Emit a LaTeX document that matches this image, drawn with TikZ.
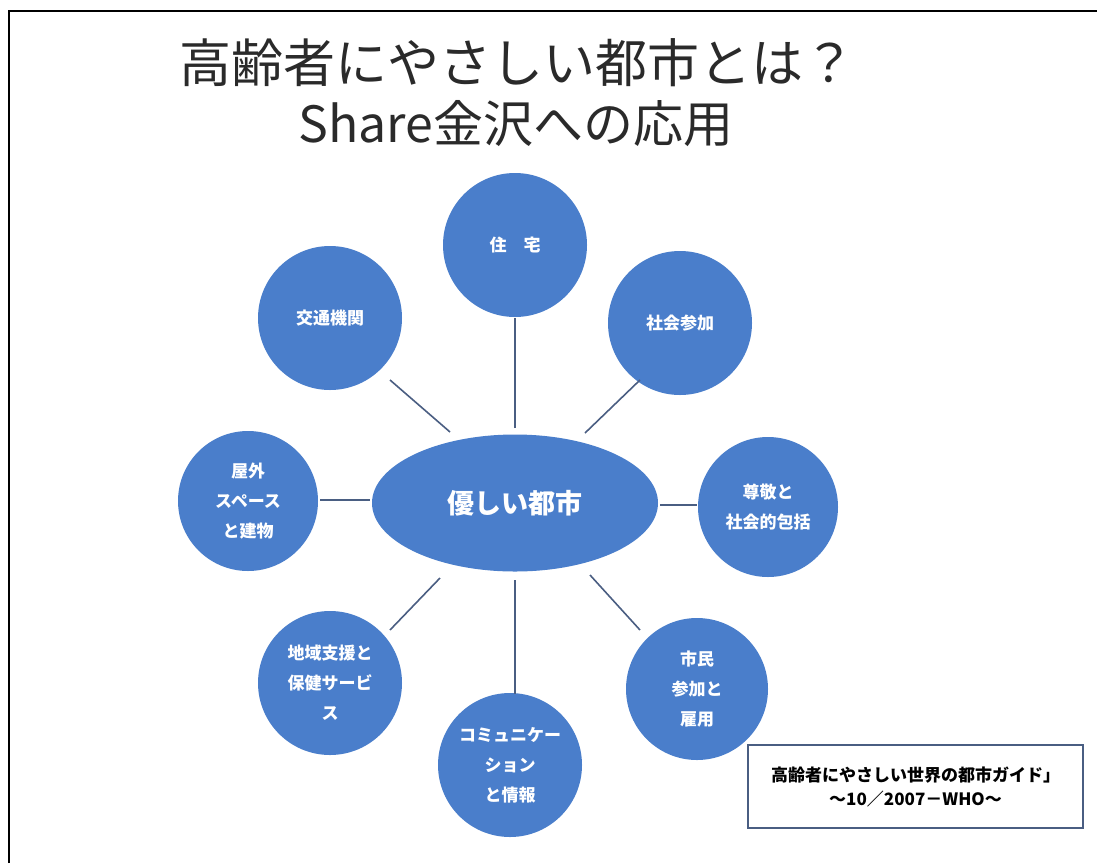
\documentclass[tikz,border=0pt]{standalone}
\usepackage{fontspec}
\setmainfont{Noto Sans CJK JP}
\usetikzlibrary{shapes.geometric}
\definecolor{cfill}{HTML}{4A7ECB}
\definecolor{cline}{HTML}{4A5E82}
\definecolor{ttl}{HTML}{2A2A2A}
\tikzset{
  topic/.style={circle, fill=cfill, minimum size=144pt, inner sep=0pt, text=white, align=center, font=\fontsize{17}{30}\selectfont\bfseries},
  hub/.style={ellipse, fill=cfill, minimum width=286pt, minimum height=137pt, inner sep=0pt, text=white, font=\fontsize{27}{30}\selectfont\bfseries},
  link/.style={draw=cline, line width=1.6pt},
}
\begin{document}
\begin{tikzpicture}[x=1pt,y=-1pt]
\useasboundingbox (0,0) rectangle (1097,863);
\fill[white] (0,0) rectangle (1097,863);
\draw[line width=2.2pt] (9,863) -- (9,11) -- (1097,11);
% title
\node[text=ttl, font=\fontsize{52}{54}\selectfont] (t1) at (517,63) {高齢者にやさしい都市とは？};
\node[text=ttl, font=\fontsize{50}{54}\selectfont] (t2) at (516,124) {Share金沢への応用};
% hub
\node[hub] (c) at (515,503) {優しい都市};
% topics
\node[topic] (a1) at (515,245) {住\hspace{1em}宅};
\node[topic] (a2) at (680,323) {社会参加};
\node[topic, minimum size=140pt] (a3) at (768,507) {尊敬と\\社会的包括};
\node[topic, minimum size=142pt] (a4) at (697,689) {市民\\参加と\\雇用};
\node[topic] (a5) at (510,765) {\baselineskip=27pt コミュニケー\\ション\\と情報};
\node[topic] (a6) at (330,683) {\baselineskip=21pt 地域支援と\\保健サービ\\ス};
\node[topic, minimum size=140pt] (a7) at (248,501) {\baselineskip=31pt 屋外\\スペース\\と建物};
\node[topic] (a8) at (330,318) {交通機関};
% links
\draw[link] (515,428) -- (515,318);
\draw[link] (585,433) -- (640,380);
\draw[link] (660,505) -- (697,505);
\draw[link] (590,575) -- (640,630);
\draw[link] (515,580) -- (515,694);
\draw[link] (440,578) -- (390,630);
\draw[link] (320,500) -- (370,500);
\draw[link] (450,432) -- (390,380);
% source box
\node[draw=cline, line width=1.6pt, minimum width=335pt, minimum height=83pt, align=center, inner sep=0pt,
      font=\fontsize{17}{24}\selectfont\bfseries] (src) at (915.5,786.5)
  {高齢者にやさしい世界の都市ガイド」\\～10／2007－WHO～};
\end{tikzpicture}
\end{document}
